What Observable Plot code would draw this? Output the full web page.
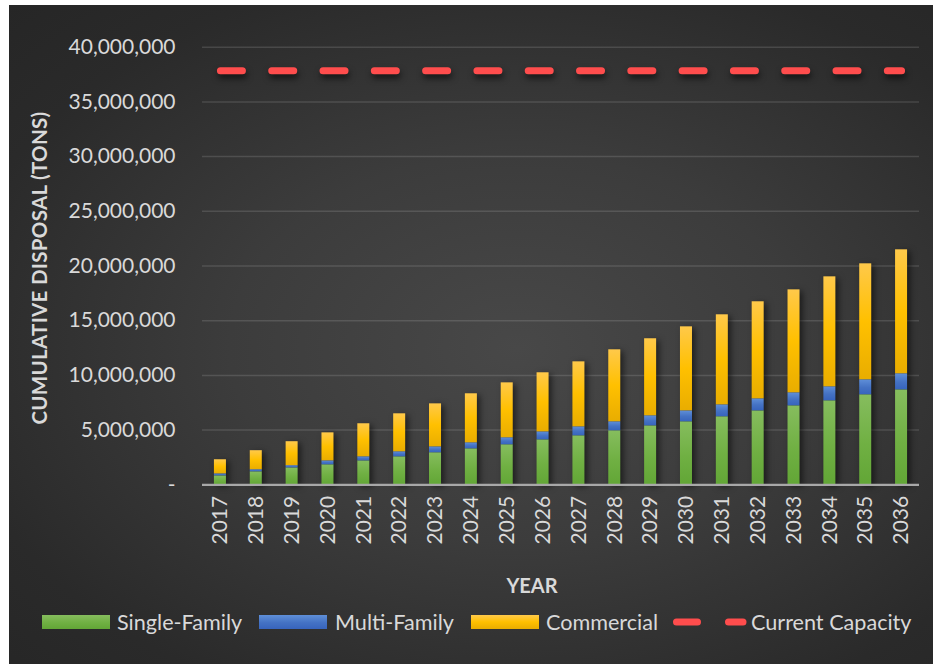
<!DOCTYPE html>
<html>
<head>
<meta charset="utf-8">
<script src="https://cdn.jsdelivr.net/npm/d3@7"></script>
<script src="https://cdn.jsdelivr.net/npm/@observablehq/plot@0.6"></script>
<style>
  html, body { margin: 0; padding: 0; background: #ffffff; }
  body { width: 933px; height: 664px; position: relative; overflow: hidden; font-family: Lato, "Open Sans", sans-serif; }
  #chart {
    position: absolute; left: 9px; top: 5px; width: 924px; height: 659px;
    background: radial-gradient(ellipse farthest-corner at 55% 52%, #484848 0%, #3c3c3c 40%, #2a2a2a 80%, #262626 100%);
    overflow: hidden;
  }
  #plot { position: absolute; left: 0; top: 0; }
  #plot svg g[aria-label="bar"] { filter: drop-shadow(3px 2px 3px rgba(0,0,0,0.55)); }
  #plot svg g[aria-label="line"] { filter: drop-shadow(1px 4px 3px rgba(0,0,0,0.6)); }
  .ytitle {
    position: absolute; left: 30px; top: 263px; transform: translate(-50%, -50%) rotate(-90deg);
    white-space: nowrap; color: #d9d9d9; font-weight: bold; font-size: 20.5px; letter-spacing: 0.3px;
  }
  .xtitle {
    position: absolute; left: 523px; top: 580px; transform: translate(-50%, -50%);
    color: #d9d9d9; font-weight: bold; font-size: 20px;
  }
  .lg { position: absolute; top: 610px; height: 14px; }
  .lt { position: absolute; top: 617px; transform: translateY(-50%); color: #d9d9d9; font-size: 21.6px; white-space: nowrap; }
</style>
</head>
<body>
<svg width="0" height="0" style="position:absolute">
  <defs>
    <linearGradient id="gSingle" x1="0" y1="0" x2="0" y2="1">
      <stop offset="0%" stop-color="#86bd5e"/>
      <stop offset="55%" stop-color="#70b043"/>
      <stop offset="100%" stop-color="#62a636"/>
    </linearGradient>
    <linearGradient id="gMulti" x1="0" y1="0" x2="0" y2="1">
      <stop offset="0%" stop-color="#5f8fd8"/>
      <stop offset="55%" stop-color="#4472c4"/>
      <stop offset="100%" stop-color="#3764bd"/>
    </linearGradient>
    <linearGradient id="gComm" x1="0" y1="0" x2="0" y2="1">
      <stop offset="0%" stop-color="#ffc94a"/>
      <stop offset="50%" stop-color="#ffc000"/>
      <stop offset="100%" stop-color="#e9ad00"/>
    </linearGradient>
  </defs>
</svg>
<div id="chart">
  <div id="plot"></div>
  <div class="ytitle">CUMULATIVE DISPOSAL (TONS)</div>
  <div class="xtitle">YEAR</div>
  <div id="legend"></div>
</div>
<script>
const years = [2017, 2018, 2019, 2020, 2021, 2022, 2023, 2024, 2025, 2026,
               2027, 2028, 2029, 2030, 2031, 2032, 2033, 2034, 2035, 2036];
const singleFamily = [820000, 1190000, 1550000, 1830000, 2190000, 2560000, 2930000, 3290000, 3660000, 4110000,
                      4480000, 4940000, 5390000, 5760000, 6220000, 6760000, 7220000, 7680000, 8230000, 8680000];
const multiFamily = [180000, 190000, 200000, 360000, 370000, 460000, 540000, 550000, 640000, 730000,
                     820000, 820000, 920000, 1000000, 1090000, 1100000, 1190000, 1280000, 1370000, 1470000];
const commercial = [1290000, 1740000, 2190000, 2560000, 3020000, 3470000, 3930000, 4480000, 5020000, 5400000,
                    5940000, 6580000, 7040000, 7680000, 8230000, 8870000, 9410000, 10050000, 10600000, 11330000];
const currentCapacity = 37850000;
const seriesNames = ["Single-Family", "Multi-Family", "Commercial", "Current Capacity"];
const yTicks = [0, 5000000, 10000000, 15000000, 20000000, 25000000, 30000000, 35000000, 40000000];

const seriesFills = ["url(#gSingle)", "url(#gMulti)", "url(#gComm)"];
const rows = [];
years.forEach((yr, i) => {
  rows.push({year: yr, series: seriesNames[0], value: singleFamily[i]});
  rows.push({year: yr, series: seriesNames[1], value: multiFamily[i]});
  rows.push({year: yr, series: seriesNames[2], value: commercial[i]});
});
const capRows = years.map(yr => ({year: yr, value: currentCapacity}));

const fmt = d3.format(",");
const plot = Plot.plot({
  width: 924,
  height: 600,
  marginLeft: 193,
  marginRight: 14,
  marginTop: 41.7,
  marginBottom: 120.7,
  style: {background: "transparent", color: "#d9d9d9", fontFamily: "Lato, 'Open Sans', sans-serif", fontSize: "21px"},
  x: {type: "band", domain: years, paddingInner: 0.665, paddingOuter: 0.3325, round: false, label: null,
      tickSize: 0, tickPadding: 11, tickRotate: -90, tickFormat: d => String(d)},
  y: {domain: [0, 40000000], ticks: yTicks, tickFormat: d => d === 0 ? "-" : fmt(d),
      tickSize: 0, tickPadding: 27, label: null},
  color: {domain: seriesNames.slice(0, 3), range: seriesFills},
  marks: [
    Plot.ruleY(yTicks.filter(d => d > 0), {stroke: "rgba(255,255,255,0.13)", strokeWidth: 1.5}),
    Plot.barY(rows, {x: "year", y: "value", fill: "series"}),
    Plot.ruleY([0], {stroke: "#a8a8a8", strokeWidth: 2.2}),
    Plot.lineY(capRows, {x: "year", y: "value", stroke: "#ff4d4d", strokeWidth: 7,
                         strokeDasharray: "22,29.3", strokeLinecap: "round"})
  ]
});
document.getElementById("plot").appendChild(plot);

// legend
const legend = document.getElementById("legend");
const lgItems = [
  {name: seriesNames[0], fill: seriesFills[0], sx: 33, tx: 108},
  {name: seriesNames[1], fill: seriesFills[1], sx: 250, tx: 326},
  {name: seriesNames[2], fill: seriesFills[2], sx: 462, tx: 537}
];
lgItems.forEach(it => {
  const s = document.createElementNS("http://www.w3.org/2000/svg", "svg");
  s.setAttribute("class", "lg");
  s.setAttribute("width", 68); s.setAttribute("height", 14);
  s.style.left = it.sx + "px";
  s.innerHTML = `<rect x="0" y="0" width="68" height="14" fill="${it.fill}"/>`;
  legend.appendChild(s);
  const t = document.createElement("div");
  t.className = "lt"; t.style.left = it.tx + "px"; t.textContent = it.name;
  legend.appendChild(t);
});
const ls = document.createElementNS("http://www.w3.org/2000/svg", "svg");
ls.setAttribute("class", "lg");
ls.setAttribute("width", 80); ls.setAttribute("height", 14);
ls.style.left = "660px";
ls.innerHTML = `<line x1="7.5" y1="7" x2="74" y2="7" stroke="#ff4d4d" stroke-width="7" stroke-linecap="round" stroke-dasharray="21,31"/>`;
legend.appendChild(ls);
const lt4 = document.createElement("div");
lt4.className = "lt"; lt4.style.left = "742px"; lt4.textContent = seriesNames[3];
legend.appendChild(lt4);
</script>
</body>
</html>
